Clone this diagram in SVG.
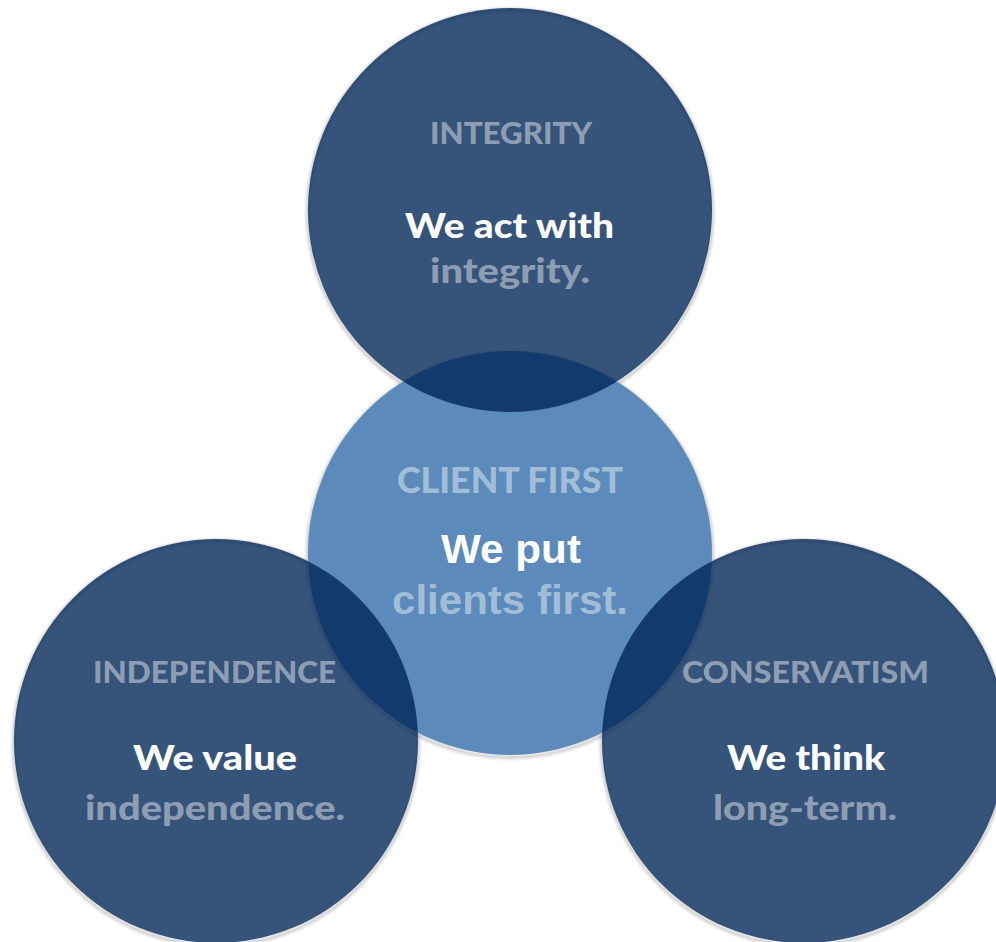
<svg xmlns="http://www.w3.org/2000/svg" width="996" height="942" viewBox="0 0 996 942">
<defs>
<filter id="sh" x="-10%" y="-10%" width="120%" height="120%">
<feGaussianBlur stdDeviation="1.6"/>
</filter>
<style>
.ring{fill:none;stroke:#000;stroke-opacity:0.22;stroke-width:3;}
.outer{fill:#002556;fill-opacity:0.79;}
.center{fill:#5b8abb;}
text{font-family:Lato,"Open Sans","Liberation Sans",sans-serif;font-weight:900;text-anchor:middle;}
.title{font-size:30px;fill:#fff;fill-opacity:0.45;}
.ctitle{font-size:36px;fill:#fff;fill-opacity:0.45;}
.main{font-size:34px;fill:#fff;}
.sub{font-size:34px;fill:#fff;fill-opacity:0.45;}
.arial{font-family:"Liberation Sans",Arial,sans-serif;font-weight:700;font-size:41px;}
</style>
</defs>
<rect width="996" height="942" fill="#fff"/>
<g id="shadows" filter="url(#sh)">
<circle class="ring" cx="510" cy="555" r="202.5"/>
<circle class="ring" cx="510" cy="212" r="202.5"/>
<circle class="ring" cx="216" cy="743" r="202.5"/>
<circle class="ring" cx="804" cy="743" r="202.5"/>
</g>
<g id="client-first">
<circle class="center" cx="510" cy="553" r="202"/>
</g>
<g id="integrity">
<circle class="outer" cx="510" cy="210" r="202"/>
</g>
<g id="independence">
<circle class="outer" cx="216" cy="741" r="202"/>
</g>
<g id="conservatism">
<circle class="outer" cx="804" cy="741" r="202"/>
</g>
<g id="connectors"/>
<g id="labels">
<text class="title" x="511" y="144" textLength="162" lengthAdjust="spacingAndGlyphs">INTEGRITY</text>
<text class="main" x="509.5" y="238" textLength="209" lengthAdjust="spacingAndGlyphs">We act with</text>
<text class="sub" x="510" y="283" textLength="160" lengthAdjust="spacingAndGlyphs">integrity.</text>

<text class="ctitle" x="510" y="493" textLength="226" lengthAdjust="spacingAndGlyphs">CLIENT FIRST</text>
<text class="main arial" x="511" y="563" textLength="140" lengthAdjust="spacingAndGlyphs">We put</text>
<text class="sub arial" x="510" y="614" textLength="236" lengthAdjust="spacingAndGlyphs">clients first.</text>

<text class="title" x="214.5" y="683" textLength="243" lengthAdjust="spacingAndGlyphs">INDEPENDENCE</text>
<text class="main" x="215" y="770" textLength="164" lengthAdjust="spacingAndGlyphs">We value</text>
<text class="sub" x="215" y="820" textLength="260" lengthAdjust="spacingAndGlyphs">independence.</text>

<text class="title" x="805.5" y="683" textLength="247" lengthAdjust="spacingAndGlyphs">CONSERVATISM</text>
<text class="main" x="806" y="770" textLength="158" lengthAdjust="spacingAndGlyphs">We think</text>
<text class="sub" x="805" y="820" textLength="184" lengthAdjust="spacingAndGlyphs">long-term.</text>
</g>
</svg>
